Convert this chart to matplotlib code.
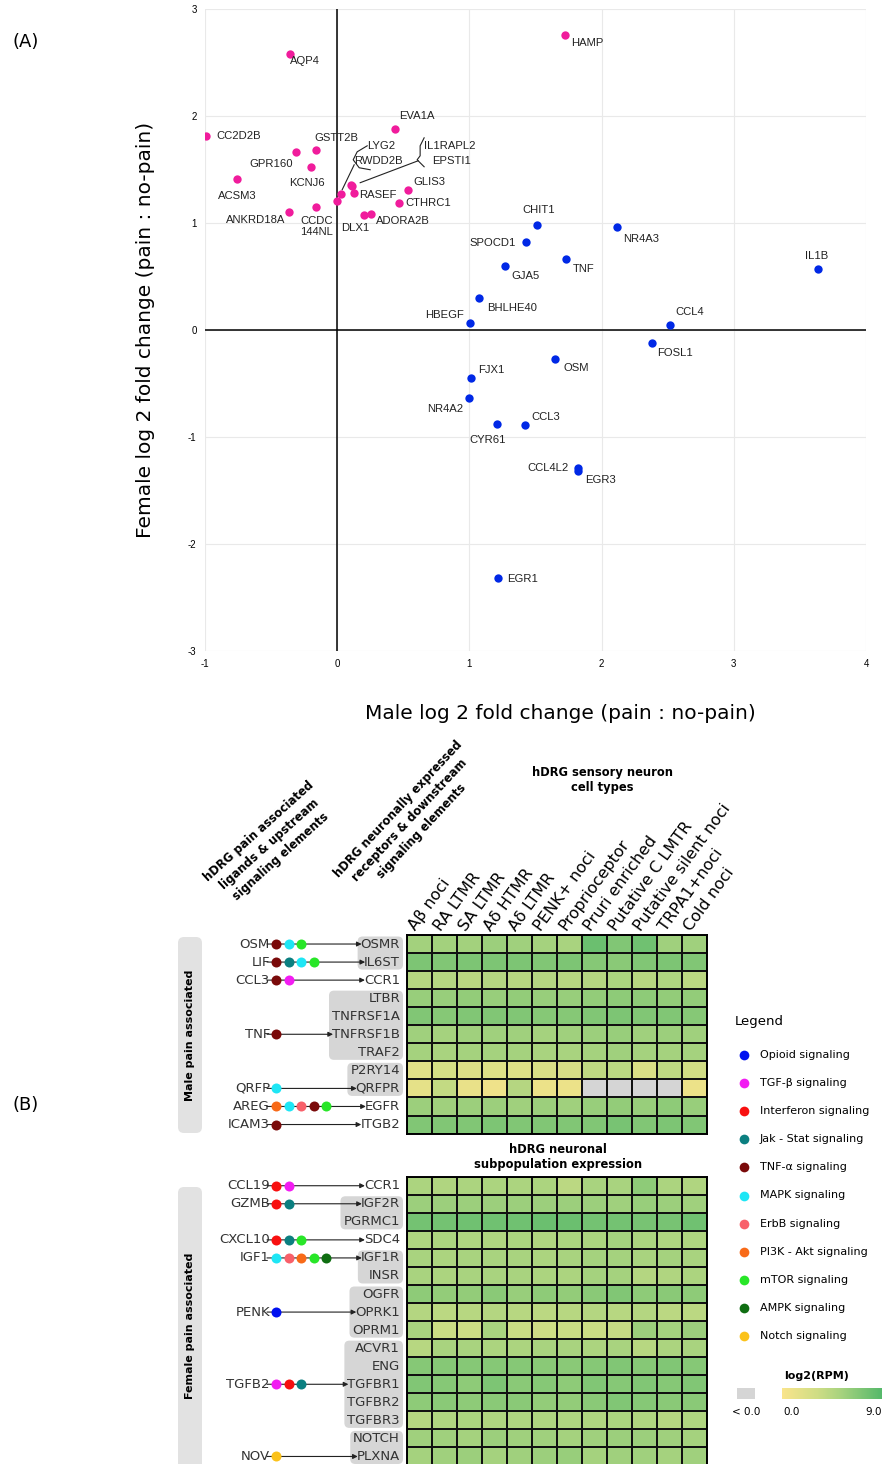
import numpy as np
import matplotlib
matplotlib.use('Agg')
import matplotlib.pyplot as plt
from matplotlib.colors import LinearSegmentedColormap, Normalize
from matplotlib.patches import FancyBboxPatch, Rectangle
from matplotlib.cm import ScalarMappable

plt.rcParams['axes.unicode_minus'] = False
W, H = 892, 1464

# ---------------- panel A data ----------------
female_genes = ['HAMP', 'AQP4', 'EVA1A', 'CC2D2B', 'GSTT2B', 'GPR160', 'KCNJ6', 'ACSM3',
                'IL1RAPL2', 'EPSTI1', 'LYG2', 'RWDD2B', 'RASEF', 'GLIS3', 'CTHRC1',
                'ANKRD18A', 'CCDC\n144NL', 'DLX1', 'ADORA2B']
female_x = [1.72, -0.356, 0.44, -0.99, -0.16, -0.31, -0.20, -0.755,
            0.108, 0.112, 0.028, 0.002, 0.129, 0.538, 0.467,
            -0.364, -0.157, 0.20, 0.258]
female_y = [2.756, 2.579, 1.877, 1.817, 1.678, 1.665, 1.519, 1.414,
            1.358, 1.35, 1.274, 1.209, 1.28, 1.311, 1.184,
            1.103, 1.146, 1.075, 1.088]

male_genes = ['CHIT1', 'NR4A3', 'SPOCD1', 'TNF', 'GJA5', 'IL1B', 'BHLHE40', 'HBEGF', 'CCL4',
              'FOSL1', 'OSM', 'FJX1', 'NR4A2', 'CYR61', 'CCL3', 'CCL4L2', 'EGR3', 'EGR1']
male_x = [1.51, 2.12, 1.43, 1.73, 1.27, 3.64, 1.076, 1.005, 2.52,
          2.38, 1.65, 1.01, 1.0, 1.21, 1.42, 1.82, 1.825, 1.22]
male_y = [0.985, 0.96, 0.824, 0.662, 0.594, 0.566, 0.302, 0.065, 0.047,
          -0.117, -0.273, -0.45, -0.639, -0.874, -0.891, -1.286, -1.32, -2.317]

# label offsets in pixels (dx, dy downwards, ha); genes missing here get a brace
label_pos = {
    'HAMP': (7, 8, 'left'), 'AQP4': (0, 7, 'left'), 'EVA1A': (4, -13, 'left'),
    'CC2D2B': (10, 0, 'left'), 'GSTT2B': (-2, -12, 'left'), 'GPR160': (-3, 12, 'right'),
    'KCNJ6': (-4, 16, 'center'), 'ACSM3': (0, 17, 'center'), 'RASEF': (5, 2, 'left'),
    'GLIS3': (5, -8, 'left'), 'CTHRC1': (6, 0, 'left'), 'ANKRD18A': (-4, 8, 'right'),
    'CCDC\n144NL': (0, 19, 'center'), 'DLX1': (-8, 13, 'center'), 'ADORA2B': (5, 7, 'left'),
    'CHIT1': (2, -15, 'center'), 'NR4A3': (6, 12, 'left'), 'SPOCD1': (-10, 1, 'right'),
    'TNF': (7, 10, 'left'), 'GJA5': (6, 10, 'left'), 'IL1B': (-2, -13, 'center'),
    'BHLHE40': (8, 10, 'left'), 'HBEGF': (-6, -8, 'right'), 'CCL4': (5, -13, 'left'),
    'FOSL1': (5, 10, 'left'), 'OSM': (8, 9, 'left'), 'FJX1': (7, -8, 'left'),
    'NR4A2': (-6, 11, 'right'), 'CYR61': (-10, 16, 'center'), 'CCL3': (6, -8, 'left'),
    'CCL4L2': (-9, 0, 'right'), 'EGR3': (7, 9, 'left'), 'EGR1': (9, 1, 'left'),
}

# ---------------- panel B data ----------------
cell_types = ['Aβ noci', 'RA LTMR', 'SA LTMR', 'Aδ HTMR', 'Aδ LTMR', 'PENK+ noci',
              'Proprioceptor', 'Pruri enriched', 'Putative C LMTR', 'Putative silent noci',
              'TRPA1+noci', 'Cold noci']

male_receptors = ['OSMR', 'IL6ST', 'CCR1', 'LTBR', 'TNFRSF1A', 'TNFRSF1B', 'TRAF2',
                  'P2RY14', 'QRFPR', 'EGFR', 'ITGB2']
male_expr = [
    [5.5, 5.5, 5.5, 5.8, 5.6, 5.4, 5.2, 8.0, 7.0, 7.8, 5.6, 5.6],
    [7.2, 7.0, 7.2, 7.2, 7.2, 7.0, 7.2, 6.8, 6.6, 7.0, 7.2, 7.0],
    [4.5, 4.6, 4.3, 4.6, 4.4, 4.6, 4.4, 4.6, 5.0, 4.4, 4.8, 4.2],
    [6.0, 6.0, 6.2, 6.0, 6.2, 6.0, 6.0, 6.2, 6.4, 6.4, 6.2, 6.2],
    [7.0, 6.8, 7.0, 7.0, 7.0, 6.8, 6.8, 7.0, 7.2, 7.0, 7.0, 6.8],
    [5.6, 5.4, 5.6, 5.6, 5.6, 5.4, 5.6, 5.8, 6.0, 5.6, 5.8, 5.6],
    [5.4, 5.2, 5.4, 5.4, 5.4, 5.2, 5.2, 5.4, 5.6, 5.4, 5.4, 5.4],
    [1.8, 2.8, 2.2, 2.0, 2.0, 2.4, 2.6, 4.0, 4.2, 2.4, 4.0, 3.0],
    [1.5, 3.8, 1.2, 0.8, 4.5, 1.0, 1.0, -1.0, -1.0, -1.0, -1.0, 1.0],
    [5.8, 5.6, 5.8, 5.8, 5.6, 5.8, 5.6, 6.0, 6.2, 6.0, 6.4, 6.0],
    [7.0, 7.0, 7.0, 7.2, 7.0, 7.0, 7.0, 7.0, 7.4, 7.0, 7.2, 7.0],
]
male_ligands = ['OSM', 'LIF', 'CCL3', 'TNF', 'QRFP', 'AREG', 'ICAM3']
male_lig_rows = [0, 1, 2, 5, 8, 9, 10]
male_lig_paths = [['tnf', 'mapk', 'mtor'], ['tnf', 'jak', 'mapk', 'mtor'], ['tnf', 'tgfb'],
                  ['tnf'], ['mapk'], ['pi3k', 'mapk', 'erbb', 'tnf', 'mtor'], ['tnf']]
male_groups = [(0, 1), (3, 6), (7, 8)]

female_receptors = ['CCR1', 'IGF2R', 'PGRMC1', 'SDC4', 'IGF1R', 'INSR', 'OGFR', 'OPRK1',
                    'OPRM1', 'ACVR1', 'ENG', 'TGFBR1', 'TGFBR2', 'TGFBR3', 'NOTCH', 'PLXNA']
female_expr = [
    [5.0, 4.8, 5.0, 5.0, 5.0, 5.0, 4.2, 5.2, 5.2, 6.4, 5.0, 4.8],
    [5.8, 5.8, 5.8, 5.8, 5.8, 5.8, 5.8, 5.8, 5.6, 6.0, 5.8, 5.6],
    [7.6, 7.6, 7.8, 7.8, 7.8, 8.0, 8.0, 7.6, 7.6, 7.4, 7.4, 7.8],
    [4.8, 5.0, 4.8, 4.8, 5.0, 4.8, 5.0, 5.0, 5.4, 5.0, 4.8, 4.8],
    [5.2, 5.0, 5.2, 5.2, 5.2, 5.0, 5.2, 5.4, 5.4, 5.2, 5.4, 5.2],
    [5.2, 5.0, 5.2, 5.2, 5.2, 5.0, 5.0, 5.4, 5.4, 4.6, 4.8, 5.0],
    [6.4, 6.2, 6.2, 6.6, 6.0, 6.4, 6.2, 6.6, 7.0, 6.4, 6.6, 6.4],
    [4.6, 4.2, 4.4, 4.6, 4.4, 4.2, 4.4, 4.6, 4.4, 4.6, 4.2, 4.2],
    [5.2, 3.4, 3.2, 5.2, 3.4, 3.2, 3.4, 3.4, 3.6, 5.8, 5.4, 5.8],
    [4.4, 5.2, 5.2, 5.0, 5.0, 5.2, 5.2, 5.0, 5.2, 4.4, 5.0, 5.2],
    [6.8, 6.8, 6.8, 6.8, 6.8, 6.6, 6.6, 6.8, 7.0, 6.8, 7.0, 6.8],
    [7.0, 6.8, 6.4, 7.2, 6.6, 6.8, 6.4, 7.0, 6.8, 7.0, 6.8, 7.0],
    [6.4, 6.6, 6.4, 6.6, 6.6, 6.2, 6.2, 6.6, 7.0, 6.8, 6.6, 6.6],
    [4.6, 4.8, 5.0, 4.8, 4.8, 4.8, 4.8, 4.8, 5.0, 4.8, 4.6, 4.8],
    [5.6, 5.6, 5.4, 5.8, 5.6, 5.6, 5.4, 5.6, 5.8, 5.8, 5.6, 5.4],
    [5.4, 5.6, 5.8, 5.4, 5.6, 5.8, 6.0, 5.4, 5.6, 5.6, 5.4, 5.6],
]
female_ligands = ['CCL19', 'GZMB', 'CXCL10', 'IGF1', 'PENK', 'TGFB2', 'NOV']
female_lig_rows = [0, 1, 3, 4, 7, 11, 15]
female_lig_paths = [['ifn', 'tgfb'], ['ifn', 'jak'], ['ifn', 'jak', 'mtor'],
                    ['mapk', 'erbb', 'pi3k', 'mtor', 'ampk'], ['opioid'],
                    ['tgfb', 'ifn', 'jak'], ['notch']]
female_groups = [(1, 2), (4, 5), (6, 8), (9, 13), (14, 15)]

path_keys = ['opioid', 'tgfb', 'ifn', 'jak', 'tnf', 'mapk', 'erbb', 'pi3k', 'mtor', 'ampk', 'notch']
path_names = ['Opioid signaling', 'TGF-β signaling', 'Interferon signaling',
              'Jak - Stat signaling', 'TNF-α signaling', 'MAPK signaling', 'ErbB signaling',
              'PI3K - Akt signaling', 'mTOR signaling', 'AMPK signaling', 'Notch signaling']
path_colors = ['#0010f0', '#f21cf2', '#f81010', '#0b7f80', '#7a0a0a', '#1ee6f5', '#f8606a',
               '#f86a18', '#28e628', '#0f6e12', '#fbc21a']
pcol = dict(zip(path_keys, path_colors))


def frac(x0, y0, x1, y1):
    return [x0 / W, 1 - y1 / H, (x1 - x0) / W, (y1 - y0) / H]


fig = plt.figure(figsize=(W / 100, H / 100), dpi=100)

# ---------------- panel A ----------------
ax = fig.add_axes(frac(205, 9, 866, 651))
ax.set_xlim(-1, 4)
ax.set_ylim(-3, 3)
ax.set_xticks(range(-1, 5))
ax.set_yticks(range(-3, 4))
ax.grid(True, color='#e9e9e9', lw=0.8)
ax.set_axisbelow(True)
for s in ax.spines.values():
    s.set_visible(False)
ax.axhline(0, color='k', lw=1.1, zorder=1)
ax.axvline(0, color='k', lw=1.1, zorder=1)
ax.tick_params(length=0, labelsize=7, pad=6)
for t in ax.get_xticklabels() + ax.get_yticklabels():
    t.set_fontfamily('Liberation Sans')
ax.scatter(female_x, female_y, s=36, color='#f01c9c', zorder=3, linewidths=0)
ax.scatter(male_x, male_y, s=36, color='#0028e6', zorder=3, linewidths=0)

lab_kw = dict(fontsize=8.1, family='Liberation Sans', color='#222222', va='center')
for g, x, y in list(zip(female_genes, female_x, female_y)) + list(zip(male_genes, male_x, male_y)):
    if g not in label_pos:
        continue
    dx, dy, ha = label_pos[g]
    ax.annotate(g, (x, y), xytext=(dx, -dy), textcoords='offset pixels', ha=ha,
                multialignment='center', **lab_kw)


def p2d(px, py):
    return (px - 336) / 132.3, (330.7 - py) / 107.3


# braces for the crowded labels near the origin
ax.text(*p2d(380, 146), 'LYG2', ha='center', **lab_kw)
ax.text(*p2d(377, 161), 'RWDD2B', ha='center', **lab_kw)
ax.text(*p2d(449, 146), 'IL1RAPL2', ha='center', **lab_kw)
ax.text(*p2d(450, 161), 'EPSTI1', ha='center', **lab_kw)
b1 = np.array([p2d(*p) for p in [(366, 146), (356, 152), (352, 160), (358, 168), (369, 170)]])
ax.plot(b1[:, 0], b1[:, 1], color='#222', lw=0.8)
l1 = np.array([p2d(*p) for p in [(353, 165), (341, 190)]])
ax.plot(l1[:, 0], l1[:, 1], color='#222', lw=0.8)
b2 = np.array([p2d(*p) for p in [(423, 138), (419, 146), (419, 156), (416, 160), (420, 164), (423, 167)]])
ax.plot(b2[:, 0], b2[:, 1], color='#222', lw=0.8)
l2 = np.array([p2d(*p) for p in [(417, 161), (359, 183)]])
ax.plot(l2[:, 0], l2[:, 1], color='#222', lw=0.8)

ax.set_xlabel('Male log 2 fold change (pain : no-pain)', fontsize=14.5)
ax.set_ylabel('Female log 2 fold change (pain : no-pain)', fontsize=14.5)
ax.xaxis.set_label_coords(0.537, -0.083)
ax.yaxis.set_label_coords(-0.076, 0.5)

# ---------------- panel B ----------------
ov = fig.add_axes([0, 0, 1, 1])
ov.set_xlim(0, W)
ov.set_ylim(H, 0)
ov.axis('off')

ov.text(12, 42, '(A)', fontsize=13, va='center')
ov.text(12, 1105, '(B)', fontsize=13, va='center')

cmap = LinearSegmentedColormap.from_list(
    'rpm', [(0, '#f9e48b'), (0.35, '#cfdd85'), (0.6, '#a5d27e'), (1, '#55b86a')])
cmap.set_under('#d5d5d5')
norm = Normalize(0, 9)

HX0, HX1 = 406.7, 706.7
ROW_H = 18.05
blocks = [
    (935, male_receptors, male_expr, male_ligands, male_lig_rows, male_lig_paths, male_groups),
    (1176.7, female_receptors, female_expr, female_ligands, female_lig_rows, female_lig_paths,
     female_groups),
]

pending = []
for top, recs, expr, ligs, lrows, lpaths, groups in blocks:
    n = len(recs)
    hax = fig.add_axes(frac(HX0, top, HX1, top + n * ROW_H))
    hax.pcolormesh(np.array(expr), cmap=cmap, norm=norm, edgecolors='#111111', linewidth=1.1)
    hax.set_xlim(0, len(cell_types))
    hax.set_ylim(n, 0)
    hax.set_xticks([])
    hax.set_yticks([])
    for s in hax.spines.values():
        s.set_linewidth(1.4)
    yc = [top + (i + 0.5) * ROW_H for i in range(n)]
    rtexts = [ov.text(400, y, r, ha='right', va='center', fontsize=9.5, color='#333333')
              for r, y in zip(recs, yc)]
    ltexts = [ov.text(270, yc[r], l, ha='right', va='center', fontsize=9.5, color='#333333')
              for l, r in zip(ligs, lrows)]
    pending.append((top, yc, rtexts, ltexts, lrows, lpaths, groups))

# side boxes
ov.add_patch(FancyBboxPatch((178, 937), 24, 196, boxstyle='round,pad=0,rounding_size=6',
                            fc='#e2e2e2', ec='none', zorder=0))
ov.add_patch(FancyBboxPatch((178, 1187), 24, 300, boxstyle='round,pad=0,rounding_size=6',
                            fc='#e2e2e2', ec='none', zorder=0))
ov.text(190, 1035, 'Male pain associated', rotation=90, ha='center', va='center',
        fontsize=8, fontweight='bold')
ov.text(190, 1326, 'Female pain associated', rotation=90, ha='center', va='center',
        fontsize=8, fontweight='bold')

fig.canvas.draw()
inv = ov.transData.inverted()


def xext(t):
    bb = t.get_window_extent()
    (x0, _), (x1, _) = inv.transform([[bb.x0, bb.y0], [bb.x1, bb.y1]])
    return min(x0, x1), max(x0, x1)


for top, yc, rtexts, ltexts, lrows, lpaths, groups in pending:
    for a, b in groups:
        left = min(xext(rtexts[i])[0] for i in range(a, b + 1)) - 3
        ov.add_patch(FancyBboxPatch((left, top + a * ROW_H + 1.5), 403 - left,
                                    (b - a + 1) * ROW_H - 3,
                                    boxstyle='round,pad=0,rounding_size=5',
                                    fc='#d6d6d6', ec='none', zorder=0))
    for lt, r, ps in zip(ltexts, lrows, lpaths):
        x_start = xext(lt)[1] - 3
        x_end = xext(rtexts[r])[0] + 1
        ov.annotate('', xy=(x_end, yc[r]), xytext=(x_start, yc[r]),
                    arrowprops=dict(arrowstyle='-|>', lw=0.8, color='#222222',
                                    mutation_scale=7, shrinkA=0, shrinkB=0))
        for k, p in enumerate(ps):
            ov.plot(276 + 12.5 * k, yc[r], 'o', ms=7.2, color=pcol[p], mec='none', zorder=5)

# headers
ov.text(201, 909, 'hDRG pain associated\nligands & upstream\nsignaling elements', rotation=42,
        ha='left', va='bottom', multialignment='center', fontsize=8.4, fontweight='bold',
        linespacing=1.35)
ov.text(331, 902, 'hDRG neuronally expressed\nreceptors & downstream\nsignaling elements',
        rotation=47, ha='left', va='bottom', multialignment='center', fontsize=8.4,
        fontweight='bold', linespacing=1.3)
ov.text(602, 780, 'hDRG sensory neuron\ncell types', ha='center', va='center',
        fontsize=8.3, fontweight='bold')
ov.text(558, 1157, 'hDRG neuronal\nsubpopulation expression', ha='center', va='center',
        fontsize=8.3, fontweight='bold')
cw = (HX1 - HX0) / len(cell_types)
for j, c in enumerate(cell_types):
    ov.text(HX0 + (j + 0.5) * cw - 7, 929, c, rotation=54, rotation_mode='anchor',
            ha='left', va='center', fontsize=11.5)

# legend
ov.text(735, 1021, 'Legend', fontsize=9.5, va='center')
for k, (nm, c) in enumerate(zip(path_names, path_colors)):
    y = 1055 + 28.1 * k
    ov.plot(744, y, 'o', ms=7, color=c, mec='none')
    ov.text(760, y, nm, fontsize=8, va='center')

# colour scale
ov.text(817, 1376, 'log2(RPM)', fontsize=8, fontweight='bold', ha='center', va='center')
ov.add_patch(Rectangle((737, 1388), 18, 11, fc='#d5d5d5', ec='none'))
ov.text(746, 1412, '< 0.0', fontsize=7.5, ha='center', va='center')
ov.text(783, 1412, '0.0', fontsize=7.5, ha='left', va='center')
ov.text(882, 1412, '9.0', fontsize=7.5, ha='right', va='center')
cax = fig.add_axes(frac(782, 1388, 882, 1399))
cb = fig.colorbar(ScalarMappable(norm=norm, cmap=cmap), cax=cax, orientation='horizontal')
cb.set_ticks([])
cb.outline.set_visible(False)

fig.savefig('out.png', dpi=100)
